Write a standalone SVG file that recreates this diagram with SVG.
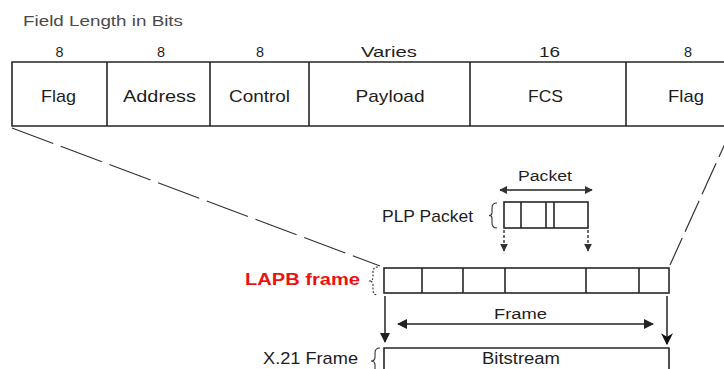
<svg xmlns="http://www.w3.org/2000/svg" width="724" height="369" viewBox="0 0 724 369">
  <style>
    .bg { fill: #ffffff; }
    .box { fill: none; stroke: #262626; stroke-width: 1.6; }
    .div { stroke: #262626; stroke-width: 1.6; }
    .dash { fill: none; stroke: #333; stroke-width: 1.2; stroke-dasharray: 44 8; }
    .dash2 { fill: none; stroke: #333; stroke-width: 1.2; stroke-dasharray: 34 7; }
    .arr { stroke: #222; stroke-width: 1.5; fill: none; }
    .dot { stroke: #222; stroke-width: 1.3; stroke-dasharray: 3 2; fill: none; }
    .brace { fill: none; stroke: #333; stroke-width: 1.1; }
    .t { font-family: "Liberation Sans", Arial, sans-serif; fill: #1e1e1e; }
    .sm { font-size: 14px; }
    .md { font-size: 17px; }
    .hdr { font-size: 14px; fill: #4a4a4a; }
    .red { font-size: 16px; font-weight: bold; fill: #ee1111; }
  </style>
  <defs>
    <marker id="head" viewBox="0 0 10 10" refX="9" refY="5" markerWidth="10" markerHeight="10" markerUnits="userSpaceOnUse" orient="auto-start-reverse">
      <path d="M0,0 L10,5 L0,10 Z" fill="#222"/>
    </marker>
    <marker id="headS" viewBox="0 0 10 10" refX="9" refY="5" markerWidth="8" markerHeight="8" markerUnits="userSpaceOnUse" orient="auto-start-reverse">
      <path d="M0,0 L10,5 L0,10 Z" fill="#333"/>
    </marker>
    <marker id="headD" viewBox="0 0 10 10" refX="9" refY="5" markerWidth="12" markerHeight="12" markerUnits="userSpaceOnUse" orient="auto">
      <path d="M0,0 L10,5 L0,10 L3,5 Z" fill="#111"/>
    </marker>
  </defs>

  <rect class="bg" x="0" y="0" width="724" height="369"/>

  <text class="t hdr" x="23" y="26" textLength="160" lengthAdjust="spacingAndGlyphs">Field Length in Bits</text>

  <!-- HDLC / LAPB frame layout -->
  <g id="frame-fields">
    <path class="box" d="M730,62 H12 V126 H730"/>
    <line class="div" x1="107" y1="62" x2="107" y2="126"/>
    <line class="div" x1="210" y1="62" x2="210" y2="126"/>
    <line class="div" x1="309" y1="62" x2="309" y2="126"/>
    <line class="div" x1="470" y1="62" x2="470" y2="126"/>
    <line class="div" x1="626" y1="62" x2="626" y2="126"/>

    <text class="t sm" x="59.5" y="57" text-anchor="middle" textLength="8" lengthAdjust="spacingAndGlyphs">8</text>
    <text class="t sm" x="161" y="57" text-anchor="middle" textLength="8" lengthAdjust="spacingAndGlyphs">8</text>
    <text class="t sm" x="260" y="57" text-anchor="middle" textLength="8" lengthAdjust="spacingAndGlyphs">8</text>
    <text class="t sm" x="389" y="57" text-anchor="middle" textLength="56" lengthAdjust="spacingAndGlyphs">Varies</text>
    <text class="t sm" x="549.5" y="57" text-anchor="middle" textLength="21" lengthAdjust="spacingAndGlyphs">16</text>
    <text class="t sm" x="688" y="57" text-anchor="middle" textLength="8" lengthAdjust="spacingAndGlyphs">8</text>

    <text class="t md" x="58.5" y="102" text-anchor="middle" textLength="35" lengthAdjust="spacingAndGlyphs">Flag</text>
    <text class="t md" x="159.5" y="102" text-anchor="middle" textLength="73" lengthAdjust="spacingAndGlyphs">Address</text>
    <text class="t md" x="259.5" y="102" text-anchor="middle" textLength="61" lengthAdjust="spacingAndGlyphs">Control</text>
    <text class="t md" x="390" y="102" text-anchor="middle" textLength="69" lengthAdjust="spacingAndGlyphs">Payload</text>
    <text class="t md" x="545.5" y="102" text-anchor="middle" textLength="35" lengthAdjust="spacingAndGlyphs">FCS</text>
    <text class="t md" x="686" y="102" text-anchor="middle" textLength="36" lengthAdjust="spacingAndGlyphs">Flag</text>
  </g>

  <!-- PLP packet -->
  <g id="plp-packet">
    <text class="t md" x="382" y="222" textLength="91" lengthAdjust="spacingAndGlyphs">PLP Packet</text>
    <path class="brace" d="M497,203 Q492,203 492,208 V213 Q492,215.5 489,215.5 Q492,215.5 492,218 V223 Q492,228 497,228"/>
    <rect class="box" x="504" y="202" width="84" height="26"/>
    <line class="div" x1="521" y1="202" x2="521" y2="228"/>
    <line class="div" x1="546" y1="202" x2="546" y2="228"/>
    <line class="div" x1="554" y1="202" x2="554" y2="228"/>
    <text class="t sm" x="545" y="181" text-anchor="middle" textLength="54" lengthAdjust="spacingAndGlyphs">Packet</text>
  </g>

  <!-- LAPB frame -->
  <g id="lapb-frame">
    <text class="t red" x="245" y="285" textLength="115" lengthAdjust="spacingAndGlyphs">LAPB frame</text>
    <path class="brace" d="M378,267 Q373,267 373,272 V277 Q373,281 369,281 Q373,281 373,285 V290 Q373,295 378,295" stroke="#6b7f6b" stroke-dasharray="2 1.5"/>
    <rect class="box" x="384" y="268" width="285" height="25"/>
    <line class="div" x1="422" y1="268" x2="422" y2="293"/>
    <line class="div" x1="463" y1="268" x2="463" y2="293"/>
    <line class="div" x1="505" y1="268" x2="505" y2="293"/>
    <line class="div" x1="586" y1="268" x2="586" y2="293"/>
    <line class="div" x1="639" y1="268" x2="639" y2="293"/>
    <text class="t sm" x="520.5" y="319" text-anchor="middle" textLength="53" lengthAdjust="spacingAndGlyphs">Frame</text>
  </g>

  <!-- X.21 frame -->
  <g id="x21-frame">
    <text class="t md" x="263" y="364" textLength="95" lengthAdjust="spacingAndGlyphs">X.21 Frame</text>
    <path class="brace" d="M380,348 Q375,348 375,353 V357 Q375,361 371,361 Q375,361 375,365 V372"/>
    <path class="box" d="M384,375 V348 H669 V375"/>
    <text class="t" font-size="16" x="521" y="364" text-anchor="middle" textLength="78" lengthAdjust="spacingAndGlyphs">Bitstream</text>
  </g>

  <!-- connectors -->
  <g id="connectors">
    <line class="dash" x1="12" y1="128" x2="380" y2="266"/>
    <line class="dash2" x1="733" y1="126" x2="670" y2="265"/>
    <line class="arr" x1="500" y1="190" x2="592" y2="190" marker-start="url(#headS)" marker-end="url(#headS)"/>
    <line class="dot" x1="504" y1="230" x2="504" y2="251" marker-end="url(#headS)"/>
    <line class="dot" x1="588" y1="230" x2="588" y2="251" marker-end="url(#headS)"/>
    <line class="arr" x1="385" y1="296" x2="385" y2="342" marker-end="url(#head)"/>
    <line class="arr" x1="667" y1="296" x2="667" y2="344" marker-end="url(#headD)"/>
    <line class="arr" x1="398" y1="324" x2="653" y2="324" marker-start="url(#head)" marker-end="url(#head)"/>
  </g>
</svg>
